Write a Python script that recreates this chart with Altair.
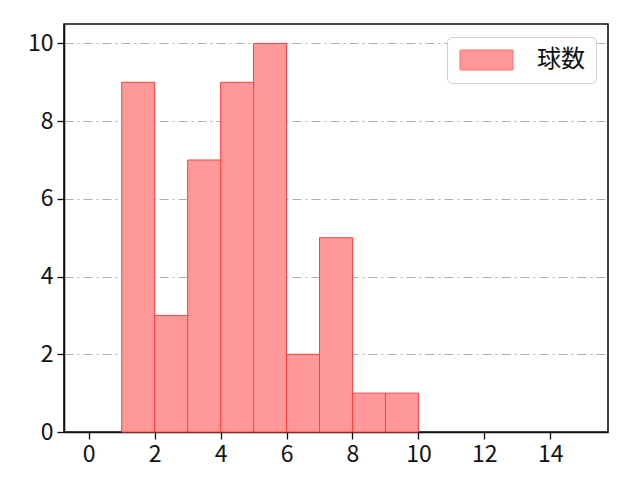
import altair as alt
import pandas as pd

bin_start = [1, 2, 3, 4, 5, 6, 7, 8, 9]
bin_end = [2, 3, 4, 5, 6, 7, 8, 9, 10]
counts = [9, 3, 7, 9, 10, 2, 5, 1, 1]
series = ["球数"] * len(counts)
x_ticks = [0, 2, 4, 6, 8, 10, 12, 14]
y_ticks = [0, 2, 4, 6, 8, 10]

df = pd.DataFrame({"start": bin_start, "end": bin_end, "count": counts, "series": series})

FONT = "Noto Sans CJK JP"

bars = alt.Chart(df).mark_bar(
    stroke="#ff4040", strokeWidth=1, opacity=1
).encode(
    x=alt.X("start:Q", scale=alt.Scale(domain=[-0.75, 15.75], nice=False, zero=False),
            axis=alt.Axis(values=x_ticks, title=None, grid=False, format="d")),
    x2="end:Q",
    y=alt.Y("count:Q", scale=alt.Scale(domain=[0, 10.5], nice=False),
            axis=alt.Axis(values=y_ticks, title=None, grid=True, format="d")),
    y2=alt.datum(0),
    color=alt.Color("series:N", scale=alt.Scale(range=["#ff9999"]),
                    legend=alt.Legend(
                        title=None, orient="none", legendX=383, legendY=13,
                        symbolType="M-1,-1H4.3V1H-1Z", symbolSize=400,
                        symbolStrokeColor="#ff7070", symbolStrokeWidth=1, symbolOpacity=1,
                        labelFont=FONT, labelFontSize=24, labelColor="#111",
                        labelOffset=55, padding=11,
                        strokeColor="#d0d0d0", fillColor="white", cornerRadius=5,
                    )),
)

chart = bars.properties(
    width=544, height=408,
    autosize=alt.AutoSizeParams(type="none"),
    padding={"left": 56, "top": 16, "right": 16, "bottom": 40},
).configure_view(
    stroke="#111", strokeWidth=1.6
).configure_axis(
    labelFont=FONT, labelFontSize=23, labelColor="#111",
    domainColor="#111", domainWidth=1.6,
    tickColor="#111", tickSize=7, tickWidth=1.3,
    labelPadding=4,
    gridColor="#b0b0b0", gridDash=[9, 4, 2, 4], gridWidth=1,
)

chart.save("out.html", embed_options={"renderer": "svg", "actions": False})
